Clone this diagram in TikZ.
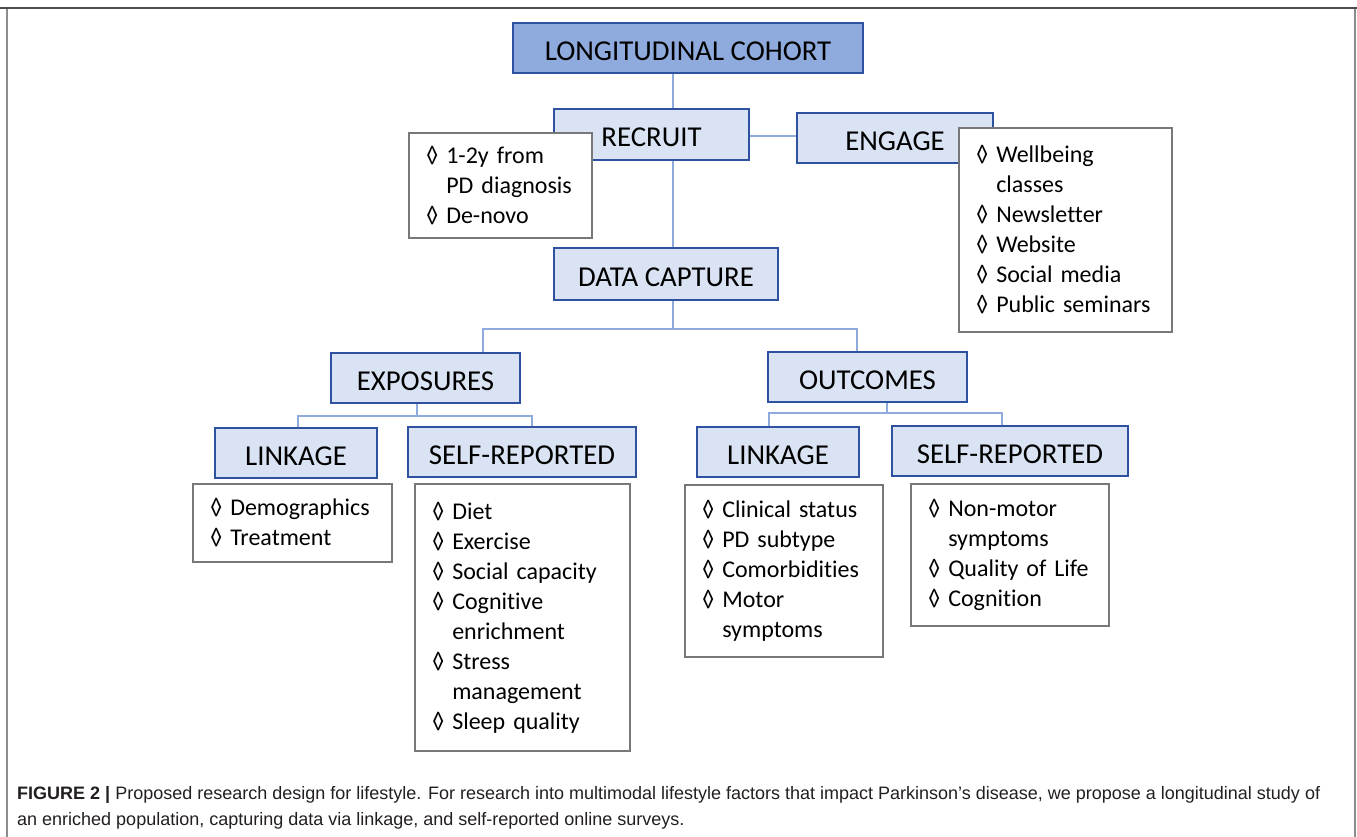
\documentclass[tikz,border=0pt]{standalone}
\usepackage{fontspec}
\setmainfont{Carlito}[Ligatures=NoCommon]
\newfontfamily\capfont{Liberation Sans}
\usetikzlibrary{positioning}

\definecolor{hdrfill}{RGB}{218,227,243}
\definecolor{topfill}{RGB}{143,170,220}
\definecolor{hdrline}{RGB}{47,82,160}
\definecolor{connline}{RGB}{143,170,220}
\definecolor{listline}{RGB}{120,120,120}
\definecolor{captext}{RGB}{35,31,32}

\tikzset{
  header/.style={draw=hdrline, fill=hdrfill, line width=1.8pt, inner sep=0pt,
    text height=24.5pt, text depth=0pt, font=\fontsize{28.8}{32}\selectfont},
  listbox/.style={draw=listline, fill=white, line width=1.3pt, align=left,
    inner xsep=17pt, inner ysep=0pt, font=\fontsize{24}{30}\selectfont},
  conn/.style={draw=connline, line width=1.3pt},
  captionline/.style={anchor=base west, inner sep=0pt, text=captext,
    font=\capfont\fontsize{18}{26}\selectfont},
}
\newcommand{\itm}{◊ }
\newcommand{\cont}{\phantom{◊ }}

\begin{document}
\begin{tikzpicture}[x=1pt,y=1pt,yscale=-1,xscale=1]
\fill [white] (0,0) rectangle (1357,837);
\useasboundingbox (0,0) rectangle (1357,837);

% frame
\draw [black!70, line width=2pt] (0,8) -- (1357,8);
\draw [black!45, line width=1.5pt] (7,9) -- (7,837);
\draw [black!45, line width=1.5pt] (1355,9) -- (1355,837);

% headers
\node (cohort) [header, fill=topfill, minimum width=350pt, minimum height=50pt] at (688,48) {LONGITUDINAL COHORT};
\node (recruit) [header, minimum width=195pt, minimum height=51pt] at (651.5,134.5) {RECRUIT};
\node (engage) [header, minimum width=196pt, minimum height=50pt] at (895,138) {ENGAGE};
\node (capture) [header, minimum width=224pt, minimum height=52pt] at (666,274) {DATA CAPTURE};
\node (exposures) [header, minimum width=189pt, minimum height=50pt] at (425.5,378) {EXPOSURES};
\node (outcomes) [header, minimum width=199pt, minimum height=50pt] at (867.5,377) {OUTCOMES};
\node (explink) [header, minimum width=162pt, minimum height=50pt] at (296,453) {LINKAGE};
\node (expself) [header, minimum width=228pt, minimum height=50pt] at (522,452) {SELF-REPORTED};
\node (outlink) [header, minimum width=162pt, minimum height=50pt] at (778,452) {LINKAGE};
\node (outself) [header, minimum width=236pt, minimum height=50pt] at (1010,451) {SELF-REPORTED};

% spine
\coordinate (spine) at (673,200);

% connectors
\draw [conn] (spine |- cohort.south) -- (spine |- recruit.north);
\draw [conn] ([yshift=1.5pt]recruit.east) -- ([yshift=1.5pt]recruit.east -| engage.west);
\draw [conn] (spine |- recruit.south) -- (spine |- capture.north);
\draw [conn] (spine |- capture.south) -- ++(0,28) coordinate (capbus);
\draw [conn] ([xshift=57.5pt]exposures.north) |- (capbus) -| ([xshift=-10.5pt]outcomes.north);
\draw [conn] ([xshift=-8.5pt]exposures.south) -- ++(0,12) coordinate (expbus);
\draw [conn] ([xshift=2pt]explink.north) |- (expbus) -| ([xshift=10pt]expself.north);
\draw [conn] ([xshift=19.5pt]outcomes.south) -- ++(0,10) coordinate (outbus);
\draw [conn] ([xshift=-9pt]outlink.north) |- (outbus) -| ([xshift=-8pt]outself.north);

% lists
\node (recruitlist) [listbox, text width=149pt, minimum height=105pt] at (500.5,185.5)
  {\itm 1-2y from\\\cont PD diagnosis\\\itm De-novo};
\node (engagelist) [listbox, text width=179pt, minimum height=204pt] at (1065.5,230)
  {\itm Wellbeing\\\cont classes\\\itm Newsletter\\\itm Website\\\itm Social media\\\itm Public seminars};
\node (explinklist) [listbox, text width=165pt, minimum height=78pt] at (292.5,523)
  {\itm Demographics\\\itm Treatment};
\node (expselflist) [listbox, text width=181pt, minimum height=267pt] at (522.5,617.5)
  {\itm Diet\\\itm Exercise\\\itm Social capacity\\\itm Cognitive\\\cont enrichment\\\itm Stress\\\cont management\\\itm Sleep quality};
\node (outlinklist) [listbox, text width=164pt, minimum height=172pt] at (784,571)
  {\itm Clinical status\\\itm PD subtype\\\itm Comorbidities\\\itm Motor\\\cont symptoms};
\node (outselflist) [listbox, text width=164pt, minimum height=142pt] at (1010,555)
  {\itm Non-motor\\\cont symptoms\\\itm Quality of Life\\\itm Cognition};

% caption
\node (caption) [captionline] at (17,799)
  {\textbf{FIGURE 2 |} Proposed research design for lifestyle. For research into multimodal lifestyle factors that impact Parkinson’s disease, we propose a longitudinal study of};
\node (caption2) [captionline] at (17,825)
  {an enriched population, capturing data via linkage, and self-reported online surveys.};

\end{tikzpicture}
\end{document}
